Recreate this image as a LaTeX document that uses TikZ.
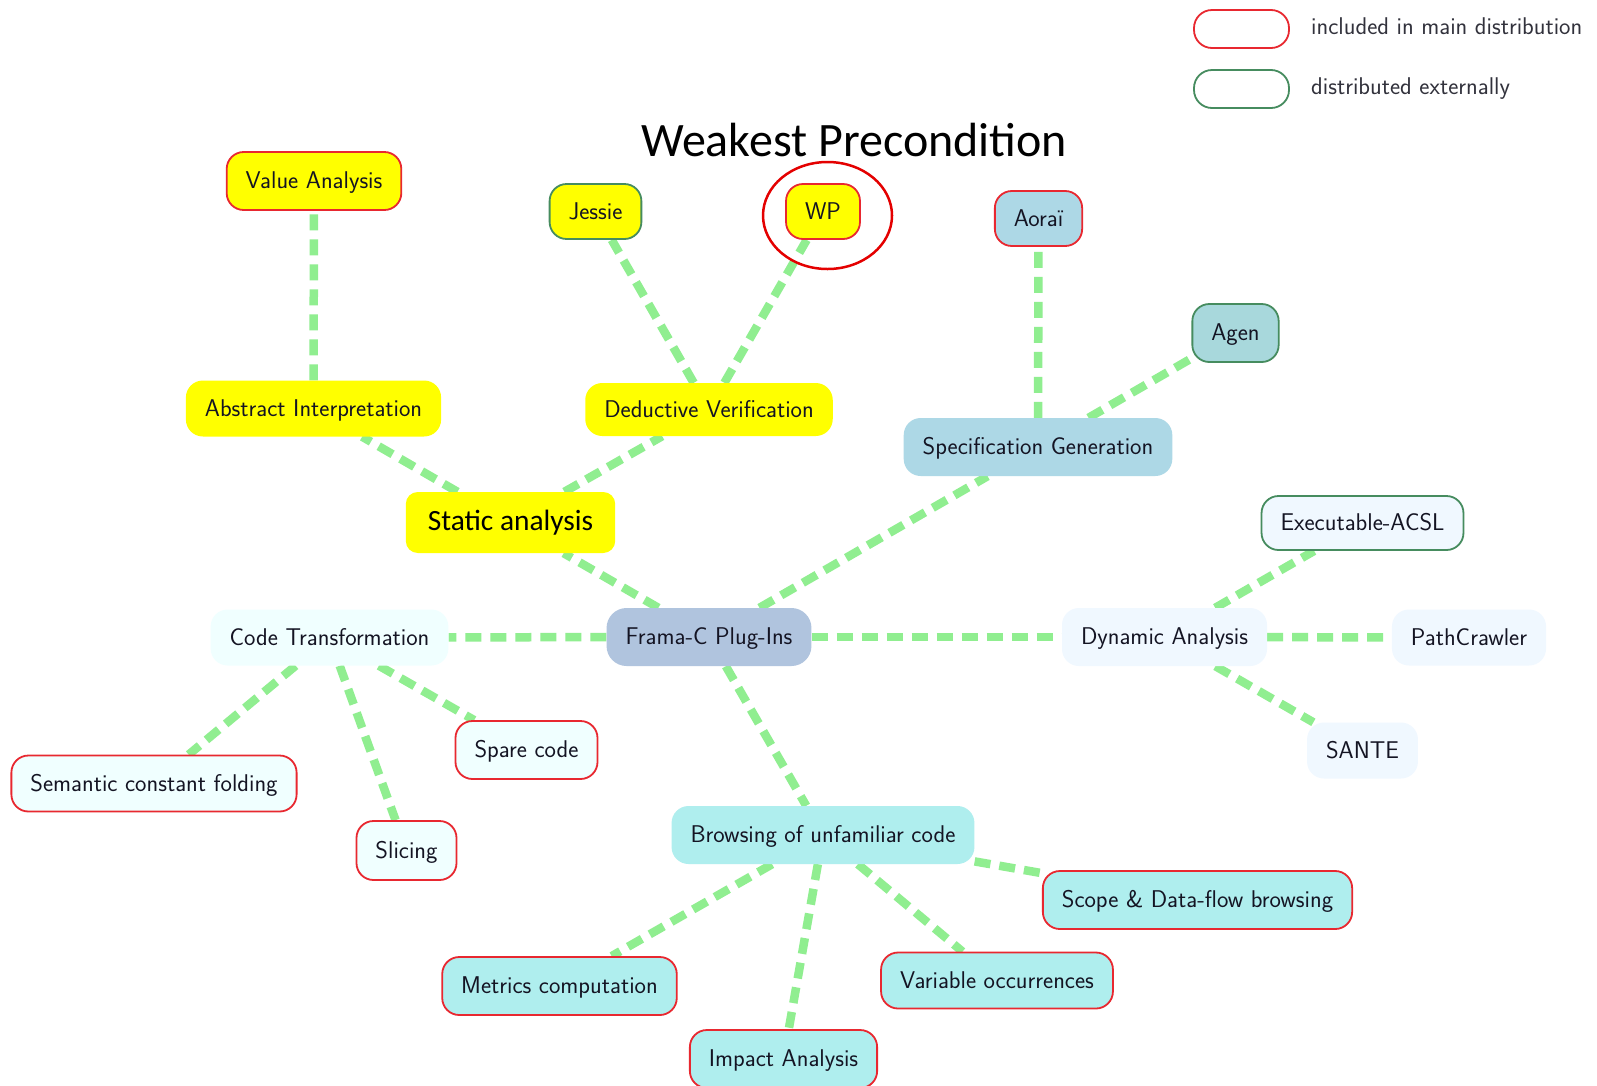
\documentclass[tikz,border=0pt]{standalone}
\usepackage{fontspec}
\newfontfamily\calibri{Carlito}
\usetikzlibrary{shapes.geometric}
\definecolor{yel}{RGB}{255,255,0}
\definecolor{redb}{RGB}{232,40,48}
\definecolor{greenb}{RGB}{70,140,95}
\definecolor{lblue}{RGB}{173,216,230}
\definecolor{agenfill}{RGB}{168,216,220}
\definecolor{steel}{RGB}{176,196,222}
\definecolor{azurefill}{RGB}{240,255,255}
\definecolor{alicefill}{RGB}{240,248,255}
\definecolor{turq}{RGB}{175,238,238}
\definecolor{edgegreen}{RGB}{144,238,144}
\definecolor{txt}{RGB}{20,20,35}
\definecolor{legtxt}{RGB}{50,50,60}
\definecolor{ringred}{RGB}{228,0,0}
\pgfdeclarelayer{background}
\pgfsetlayers{background,main}
\begin{document}
\begin{tikzpicture}[x=1pt,y=-1pt,
  plug/.style={rounded corners=17pt, inner xsep=19pt, inner ysep=0pt, minimum height=56pt,
    text height=20pt, text depth=5pt, font=\sffamily\fontsize{24.2}{29}\selectfont, text=txt},
  redline/.style={draw=redb, line width=1.8pt},
  greenline/.style={draw=greenb, line width=1.8pt},
  link/.style={draw=edgegreen, line width=8.5pt, dash pattern=on 16pt off 9pt},
  legbox/.style={line width=1.8pt, rounded corners=18pt, minimum width=95pt, minimum height=38pt, inner sep=0pt},
  legtext/.style={anchor=west, inner sep=0pt, text height=17pt, text depth=5.5pt,
    font=\sffamily\fontsize{24.2}{29}\selectfont, text=legtxt},
]
\useasboundingbox (0,0) rectangle (1597,1085);
\clip (0,0) rectangle (1597,1085);

% legend
\node[legbox, draw=redb] (legred) at (1241.5,29) {};
\node[legbox, draw=greenb] (leggreen) at (1241.5,89) {};
\node[legtext] (legredtext) at (1311,29) {included in main distribution};
\node[legtext] (leggreentext) at (1311,89) {distributed externally};

% title
\node[font=\calibri\fontsize{48}{58}\selectfont, text=black, inner sep=0pt] (title) at (854,140) {Weakest Precondition};

% centre
\node[plug, fill=steel, minimum height=58pt, rounded corners=20pt] (frama) at (709,637) {Frama-C Plug-Ins};

% static analysis branch
\node[plug, fill=yel, font=\calibri\fontsize{29.4}{35}\selectfont, text=black, inner xsep=22pt,
  minimum height=61pt, rounded corners=12pt, text height=21pt, text depth=6pt] (static) at (510.5,522.5) {Static analysis};
\node[plug, fill=yel] (absint) at (313.5,408.5) {Abstract Interpretation};
\node[plug, fill=yel, minimum height=53pt] (deduct) at (709,409.5) {Deductive Verification};
\node[plug, fill=yel, redline, minimum height=58pt] (value) at (314,181) {Value Analysis};
\node[plug, fill=yel, greenline, minimum height=55pt] (jessie) at (595.5,211.5) {Jessie};
\node[plug, fill=yel, redline, minimum height=55pt] (wp) at (823,211.5) {WP};
\node[draw=ringred, line width=2.5pt, ellipse, minimum width=129pt, minimum height=107pt, inner sep=0pt] (ring) at (827.5,215.5) {};

% specification generation branch
\node[plug, fill=lblue, minimum height=58pt] (spec) at (1038,447) {Specification Generation};
\node[plug, fill=lblue, redline, minimum height=55pt] (aorai) at (1038.5,218.5) {Aoraï};
\node[plug, fill=agenfill, greenline, minimum height=58pt] (agen) at (1235.5,333) {Agen};

% code transformation branch
\node[plug, fill=azurefill] (code) at (329.5,637.5) {Code Transformation};
\node[plug, fill=azurefill, redline] (scf) at (154,783.5) {Semantic constant folding};
\node[plug, fill=azurefill, redline, minimum height=59pt] (slicing) at (406.5,850.5) {Slicing};
\node[plug, fill=azurefill, redline, minimum height=58pt] (spare) at (526.5,750) {Spare code};

% dynamic analysis branch
\node[plug, fill=alicefill, minimum height=58pt] (dyn) at (1164.5,637) {Dynamic Analysis};
\node[plug, fill=alicefill, greenline, minimum height=54pt] (eacsl) at (1362.5,523) {Executable-ACSL};
\node[plug, fill=alicefill] (path) at (1469,637.5) {PathCrawler};
\node[plug, fill=alicefill] (sante) at (1362.5,750.5) {SANTE};

% browsing branch
\node[plug, fill=turq, minimum height=58pt] (browse) at (823,835) {Browsing of unfamiliar code};
\node[plug, fill=turq, redline, minimum height=58pt] (scope) at (1197.5,900) {Scope \& Data-flow browsing};
\node[plug, fill=turq, redline, minimum height=58pt] (metrics) at (559.5,986) {Metrics computation};
\node[plug, fill=turq, redline] (var) at (997,980.5) {Variable occurrences};
\node[plug, fill=turq, redline, minimum height=58pt] (impact) at (783.5,1059) {Impact Analysis};

\begin{pgfonlayer}{background}
\fill[white] (0,0) rectangle (1597,1085);
\draw[link] (frama) -- (static);
\draw[link] (frama) -- (code);
\draw[link] (frama) -- (spec);
\draw[link] (frama) -- (dyn);
\draw[link] (frama) -- (browse);
\draw[link] (static) -- (absint);
\draw[link] (static) -- (deduct);
\draw[link] (absint) -- (value);
\draw[link] (deduct) -- (jessie);
\draw[link] (deduct) -- (wp);
\draw[link] (spec) -- (aorai);
\draw[link] (spec) -- (agen);
\draw[link] (code) -- (scf);
\draw[link] (code) -- (slicing);
\draw[link] (code) -- (spare);
\draw[link] (dyn) -- (eacsl);
\draw[link] (dyn) -- (path);
\draw[link] (dyn) -- (sante);
\draw[link] (browse) -- (scope);
\draw[link] (browse) -- (metrics);
\draw[link] (browse) -- (impact);
\draw[link] (browse) -- (var);
\end{pgfonlayer}
\end{tikzpicture}
\end{document}
